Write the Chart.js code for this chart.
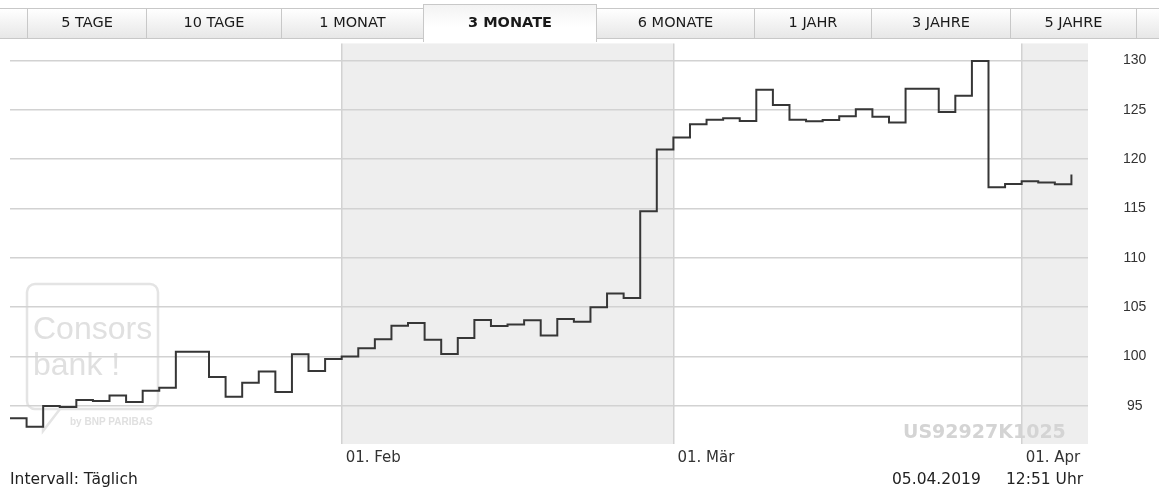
<!DOCTYPE html>
<html lang="de">
<head>
<meta charset="utf-8">
<title>US92927K1025 - 3 Monate</title>
<script src="https://cdn.jsdelivr.net/npm/chart.js@4.4.1/dist/chart.umd.min.js"></script>
<style>
  html, body { margin: 0; padding: 0; background: #fff; }
  #wrap { position: relative; width: 1159px; height: 496px; overflow: hidden; }
  #chartBox { position: absolute; left: 0; top: 0; width: 1159px; height: 496px; }
  .tab {
    position: absolute; top: 8px; height: 31px; box-sizing: border-box;
    border: 1px solid #c8c8c8; border-left: none;
    background: linear-gradient(#ffffff, #e7e7e7);
    font: 14.5px 'DejaVu Sans', sans-serif; color: #1a1a1a;
    text-align: center; line-height: 26px; z-index: 2;
  }
  .tab.aktiv {
    top: 4px; height: 38px; border-bottom: none; border-left: 1px solid #c8c8c8;
    background: linear-gradient(#f3f3f3, #ffffff 60%);
    font-weight: bold; padding-top: 4px; z-index: 3;
  }
  .fuss { position: absolute; top: 470px; font: 15.5px 'DejaVu Sans', sans-serif; color: #222; line-height: 18px; }
</style>
</head>
<body>
<div id="wrap">
  <div class="tab" style="left:-1px;width:29px;border-left:none"></div>
  <div class="tab" style="left:28px;width:119px">5 TAGE</div>
  <div class="tab" style="left:147px;width:135px">10 TAGE</div>
  <div class="tab" style="left:282px;width:142px">1 MONAT</div>
  <div class="tab aktiv" style="left:423px;width:174px">3 MONATE</div>
  <div class="tab" style="left:597px;width:158px">6 MONATE</div>
  <div class="tab" style="left:755px;width:117px">1 JAHR</div>
  <div class="tab" style="left:872px;width:139px">3 JAHRE</div>
  <div class="tab" style="left:1011px;width:126px">5 JAHRE</div>
  <div class="tab" style="left:1137px;width:30px"></div>

  <div id="chartBox"><canvas id="kurs"></canvas></div>

  <div class="fuss" style="left:10px">Intervall: Täglich</div>
  <div class="fuss" style="left:892px">05.04.2019</div>
  <div class="fuss" style="left:1006px">12:51 Uhr</div>
</div>

<script>
// Schlusskurse pro Handelstag (Jan - Apr 2019)
const kurse = [93.76, 92.9, 95.0, 94.9, 95.6, 95.5, 96.05, 95.4, 96.55, 96.85,
  100.5, 100.5, 97.93, 95.94, 97.36, 98.5, 96.42, 100.23, 98.54, 99.75,
  100.0, 100.84, 101.75, 103.13, 103.4, 101.71, 100.26, 101.88, 103.7, 103.09,
  103.26, 103.67, 102.15, 103.8, 103.53, 105.0, 106.4, 105.93, 114.73, 120.97,
  122.2, 123.53, 124.0, 124.13, 123.86, 127.03, 125.48, 124.0, 123.83, 123.96,
  124.34, 125.04, 124.3, 123.7, 127.13, 127.13, 124.77, 126.43, 129.93, 117.15,
  117.49, 117.76, 117.63, 117.46, 118.44];

// Monatsanfaenge (Index Handelstag) und Beschriftung
const monatsTicks = [20, 40, 61];
const monatsLabels = ['01. Feb', '01. Mär', '01. Apr'];
const xMax = 65;

// y-Achse
const yTicks = [95, 100, 105, 110, 115, 120, 125, 130];
const yMin = 91.15;
const yMax = 131.72;

const isin = 'US92927K1025';

// graue Baender fuer jeden zweiten Monat
const baender = [[monatsTicks[0], monatsTicks[1]], [monatsTicks[2], xMax]];

const hintergrund = {
  id: 'hintergrund',
  beforeDraw(chart) {
    const { ctx, chartArea: a, scales: { x } } = chart;
    ctx.save();
    ctx.fillStyle = '#eeeeee';
    baender.forEach(([von, bis]) => {
      const x1 = x.getPixelForValue(von);
      const x2 = x.getPixelForValue(bis);
      ctx.fillRect(x1, a.top, x2 - x1, a.bottom - a.top);
    });

    // Wasserzeichen Consors bank
    ctx.strokeStyle = '#e4e4e4';
    ctx.lineWidth = 2.5;
    ctx.beginPath();
    ctx.roundRect(27, 284, 131, 125, 8);
    ctx.stroke();
    ctx.beginPath();
    ctx.moveTo(43, 409);
    ctx.lineTo(43, 431);
    ctx.lineTo(60, 409);
    ctx.stroke();
    ctx.fillStyle = '#e0e0e0';
    ctx.font = '32px "Liberation Sans"';
    ctx.textBaseline = 'alphabetic';
    ctx.fillText('Consors', 33, 339);
    ctx.fillText('bank !', 33, 375);
    ctx.font = 'bold 10px "Liberation Sans"';
    ctx.fillText('by BNP PARIBAS', 70, 425);

    // ISIN
    ctx.fillStyle = '#d4d4d4';
    ctx.font = 'bold 19px "DejaVu Sans"';
    ctx.fillText(isin, 903, 438);
    ctx.restore();
  }
};

const kursChart = new Chart(document.getElementById('kurs'), {
  type: 'line',
  data: {
    datasets: [{
      label: isin,
      data: kurse.map((v, i) => ({ x: i, y: v })),
      borderColor: '#363636',
      borderWidth: 2,
      stepped: 'before',
      pointRadius: 0,
      fill: false
    }]
  },
  options: {
    responsive: true,
    maintainAspectRatio: false,
    animation: false,
    layout: { padding: { top: 43, left: 10, right: 0, bottom: 0 } },
    plugins: {
      legend: { display: false },
      tooltip: { enabled: false }
    },
    scales: {
      x: {
        type: 'linear',
        min: 0,
        max: xMax,
        afterBuildTicks: s => { s.ticks = monatsTicks.map(v => ({ value: v })); },
        afterFit: s => { s.height = 52; },
        grid: { color: '#d2d2d2', lineWidth: 1.5, drawTicks: false },
        border: { display: false },
        ticks: {
          align: 'start',
          labelOffset: 4,
          padding: 5,
          maxRotation: 0,
          autoSkip: false,
          color: '#333',
          font: { family: 'DejaVu Sans', size: 15 },
          callback: (v, i) => monatsLabels[i]
        }
      },
      y: {
        position: 'right',
        min: yMin,
        max: yMax,
        afterBuildTicks: s => { s.ticks = yTicks.map(v => ({ value: v })); },
        afterFit: s => { s.width = 71; },
        grid: { color: '#d2d2d2', lineWidth: 1.5, drawTicks: false },
        border: { display: false },
        ticks: {
          crossAlign: 'center',
          padding: 35,
          color: '#333',
          font: { family: 'Liberation Sans', size: 14 }
        }
      }
    }
  },
  plugins: [hintergrund]
});
</script>
</body>
</html>
